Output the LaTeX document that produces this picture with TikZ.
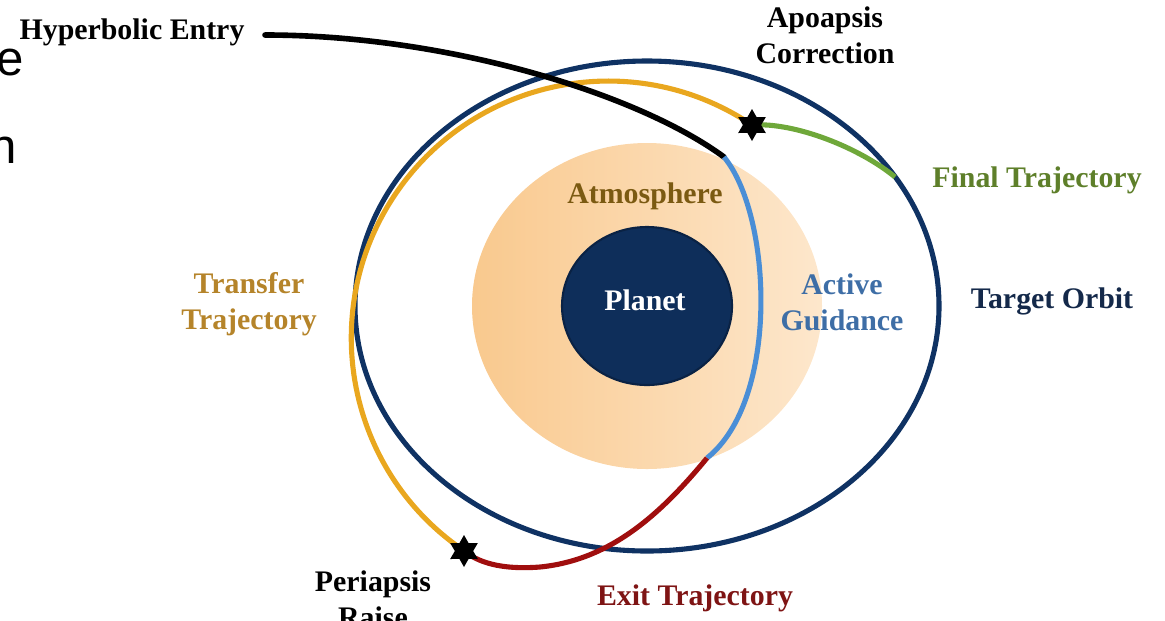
\documentclass[tikz,border=0pt]{standalone}
\usepackage{fontspec}
\setmainfont{Liberation Serif}
\newfontfamily\sansf{Liberation Sans}
\usetikzlibrary{shapes.geometric}
\definecolor{navy}{HTML}{0F3263}
\definecolor{planetc}{HTML}{0E2E5A}
\definecolor{planetedge}{HTML}{0A2244}
\definecolor{goldc}{HTML}{E9A71F}
\definecolor{bluec}{HTML}{4A8ED6}
\definecolor{redc}{HTML}{A00E0E}
\definecolor{greenc}{HTML}{6FA83A}
\definecolor{atmoD}{HTML}{F9C98E}
\definecolor{atmoL}{HTML}{FDE7CC}
\definecolor{txtAtmo}{HTML}{7B5A12}
\definecolor{txtTransfer}{HTML}{B5842A}
\definecolor{txtActive}{HTML}{3E6EA6}
\definecolor{txtTarget}{HTML}{14294A}
\definecolor{txtFinal}{HTML}{5E7F2A}
\definecolor{txtExit}{HTML}{7E1414}
\tikzset{
  lab/.style={font=\bfseries\fontsize{17}{20.5}\selectfont, align=center, inner sep=0pt},
  traj/.style={line width=2.9pt, line join=round},
  burn/.style={star, star points=6, star point ratio=1.75, fill=black, inner sep=0pt, minimum size=0.64cm},
  frag/.style={font=\sansf\fontsize{28}{30}\selectfont, inner sep=0pt, anchor=base east}
}
\begin{document}
\begin{tikzpicture}[x=0.02cm,y=-0.02cm]
\useasboundingbox (0,0) rectangle (1165,620);
% clipped text fragments at the left edge
\node[frag] (fe) at (24,75) {e};
\node[frag] (fn) at (17,163) {n};
% atmosphere and planet
\shade[left color=atmoD, right color=atmoL] (647,306) ellipse [x radius=175, y radius=163];
\node[ellipse, fill=planetc, draw=planetedge, line width=1.2pt, minimum width=170*0.02cm, minimum height=158*0.02cm, inner sep=0pt] (planet) at (647,306) {};
\node[lab, text=white] (planetlab) at (645,300) {Planet};
% key points
\coordinate (entry) at (265,35);
\coordinate (atmin) at (724,157);
\coordinate (atmout) at (707,458);
\coordinate (join) at (895,177);
\coordinate (apo) at (752,125);
\coordinate (peri) at (464,551);
% target orbit
\draw[navy, line width=2.9pt] (647,306) ellipse [x radius=292, y radius=245];
% transfer trajectory (arc from apoapsis burn to periapsis burn)
\draw[traj, goldc] (apo) arc[start angle=-56, end angle=-236, radius=257];
% hyperbolic entry
\draw[traj, black, line width=3.2pt, line cap=round] (entry) .. controls (450,35) and (640,95) .. (atmin);
% active guidance
\draw[traj, bluec] (atmin) .. controls (772,215) and (780,400) .. (atmout);
% exit trajectory
\draw[traj, redc] (atmout) .. controls (660,515) and (610,560) .. (540,567)
  .. controls (500,570) and (478,562) .. (peri);
% final trajectory
\draw[traj, greenc] (apo) .. controls (795,122) and (860,148) .. (join);
% burn markers
\node[burn] (apostar) at (apo) {};
\node[burn] (peristar) at (peri) {};
% labels
\node[lab, text=black] (lhyp) at (132,32) {Hyperbolic Entry};
\node[lab, text=black] (lapo) at (825,35) {Apoapsis\\Correction};
\node[lab, text=txtFinal] (lfin) at (1037,180) {Final Trajectory};
\node[lab, text=txtAtmo] (latm) at (645,196) {Atmosphere};
\node[lab, text=txtActive] (lact) at (842,302) {Active\\Guidance};
\node[lab, text=txtTarget] (ltar) at (1052,301) {Target Orbit};
\node[lab, text=txtTransfer] (ltra) at (249,304) {Transfer\\Trajectory};
\node[lab, text=black, anchor=north] (lper) at (373,570) {Periapsis\\Raise};
\node[lab, text=txtExit] (lexi) at (695,598) {Exit Trajectory};
\end{tikzpicture}
\end{document}
